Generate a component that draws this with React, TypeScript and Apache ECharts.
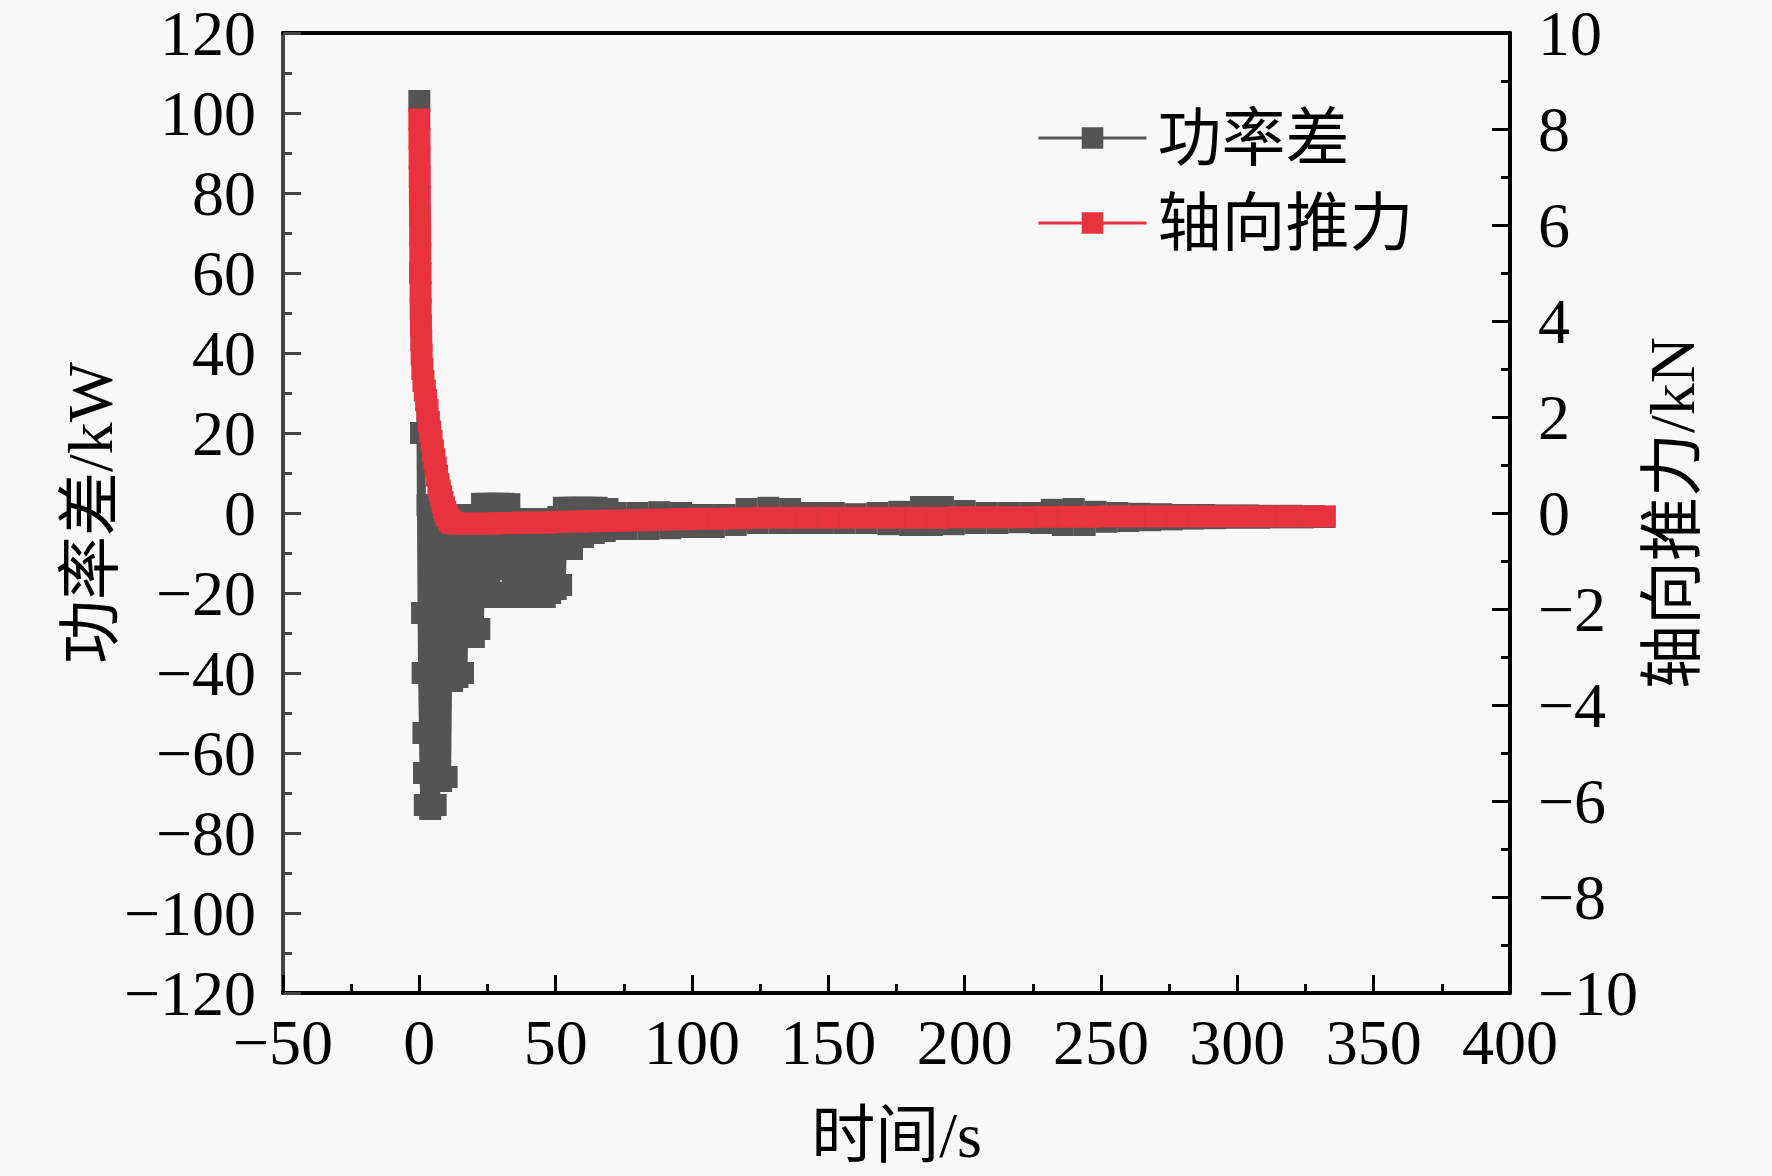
import React, { useEffect, useRef } from "react";
import * as echarts from "echarts";

// 功率差 (kW) – time (s) and values
const powerTime = [
  0, 0.3, 0.6, 1, 1.2, 1.5, 1.7, 2, 3, 4, 5, 6, 7, 8, 9, 10, 11, 12, 13, 14, 15, 16, 17, 18, 19, 20,
  21, 22, 23, 24, 25, 26, 27, 28, 29, 30, 31, 32, 33, 34, 35, 36, 37, 38, 39, 40,
  41, 42, 43, 44, 45, 46, 47, 48, 49, 50, 51, 52, 53, 54, 55, 56, 57, 58, 59, 60,
  61, 62, 63, 64, 65, 66, 67, 68, 69, 70,
  72, 76, 80, 84, 88, 92, 96, 100, 104, 108, 112, 116, 120, 124, 128, 132, 136, 140,
  144, 148, 152, 156, 160, 164, 168, 172, 176, 180, 184, 188, 192, 196, 200, 204,
  208, 212, 216, 220, 224, 228, 232, 236, 240, 244, 248, 252, 256, 260, 264, 268,
  272, 276, 280, 284, 288, 292, 296, 300, 304, 308, 312, 316, 320, 324, 328, 332,
];
const powerDiff = [
  103, 60, 20, -25, -40, -55, -65, -73, 2, -74, 1, -73, 0, -67, 1, -66, -0.5, -42, -0.5, -41, -0.5, -40, -0.5, -30, -0.5, -31,
  -0.5, -29, 2.3, -20, 2.3, -21, 2.3, -20, 2.3, -14, 2.3, -21, 2.2, -21, -1.5, -20, -1.5, -21, -1.5, -17,
  -1.5, -20, -1.5, -20, -1.5, -21, -1.5, -20, -1.5, -19, -1, -18, 1.3, -9, 1.3, -9, 1.3, -6, 1.3, -6,
  1.3, -5, 1.3, -5, 1.3, -4.5, 1, -4.5, 1, -4,
  0, -4, 0, -4, 0.2, -3.8, 0, -3.5, -0.5, -3.5, -0.5, -3, 1, -2.5, 1.3, -2.5, 1, -2.5,
  0, -2.5, 0, -2.5, -0.3, -2.5, 0, -2.8, 0.3, -3, 1.5, -3, 1.5, -2.8, 0.5, -2.5,
  0, -2.5, 0, -2.3, 0, -2.5, 0.8, -3, 1, -3, 0.3, -2.2, 0, -2, -0.2, -1.8,
  -0.3, -1.6, -0.5, -1.4, -0.5, -1.3, -0.6, -1.2, -0.6, -1.2, -0.7, -1.1, -0.7, -1.1, -0.8, -1,
];

// 轴向推力 (kN) – time (s) and values
const thrustTime = [
  0, 0.05, 0.1, 0.15, 0.2, 0.25, 0.3, 0.35, 0.4, 0.45, 0.5, 0.6, 0.7, 0.85, 1.1, 1.5,
  2, 2.5, 3, 3.5, 4, 4.5, 5, 5.5, 6, 6.5, 7, 7.5, 8, 8.5, 9, 9.5, 10, 11, 12, 14, 18,
  22, 26, 30, 34, 38, 42, 46, 50, 54, 58, 62, 66, 70, 74, 78, 82, 86, 90, 94, 98,
  102, 110, 118, 126, 134, 142, 150, 158, 166, 174, 182, 190, 198, 206, 214, 222,
  230, 238, 246, 254, 262, 270, 278, 286, 294, 302, 310, 318, 326, 332,
];
const axialThrust = [
  8.2, 7.8, 7.4, 7.0, 6.6, 6.2, 5.8, 5.4, 5.0, 4.6, 4.25, 3.9, 3.6, 3.3, 3.0, 2.75,
  2.55, 2.35, 2.15, 1.9, 1.7, 1.5, 1.3, 1.12, 0.95, 0.78, 0.6, 0.47, 0.35, 0.23, 0.12, 0.03, -0.05, -0.15, -0.2, -0.22, -0.22,
  -0.22, -0.22, -0.21, -0.21, -0.2, -0.2, -0.2, -0.19, -0.18, -0.18, -0.17, -0.17, -0.16, -0.16, -0.15, -0.15, -0.14, -0.14, -0.13, -0.13,
  -0.12, -0.12, -0.11, -0.1, -0.1, -0.1, -0.1, -0.1, -0.1, -0.1, -0.1, -0.1, -0.09, -0.09, -0.09, -0.09,
  -0.08, -0.08, -0.08, -0.07, -0.07, -0.07, -0.07, -0.07, -0.07, -0.07, -0.07, -0.07, -0.07, -0.07,
];

const seriesNames = ["功率差", "轴向推力"];
const axisNames = { x: "时间/s", yLeft: "功率差/kW", yRight: "轴向推力/kN" };

const FONT = "'Liberation Serif', 'Times New Roman', 'Noto Sans CJK SC', serif";
const GRAY = "#545454";
const RED = "#e8333f";

const fmt = (v: number) => (v < 0 ? "\u2212" + Math.abs(v) : String(v));

export default function App() {
  const ref = useRef<HTMLDivElement>(null);
  useEffect(() => {
    document.body.style.margin = "0";
    document.body.style.background = "#f8f8f8";
    const chart = echarts.init(ref.current!, null, { renderer: "svg" });
    const axisText = { fontFamily: FONT, fontSize: 64, color: "#000" };
    const tickText = { ...axisText, lineHeight: 54 };
    chart.setOption({
      animation: false,
      backgroundColor: "#f8f8f8",
      grid: { left: 283, right: 262, top: 33, bottom: 183 },
      legend: {
        orient: "vertical",
        left: 1032,
        top: 101,
        itemWidth: 108,
        itemHeight: 27,
        itemGap: 21,
        lineStyle: { width: 3 },
        textStyle: { fontFamily: FONT, fontSize: 64, color: "#000", lineHeight: 64, padding: [0, 0, 0, 6] },
        data: seriesNames,
      },
      xAxis: [
        {
          type: "value",
          min: -50,
          max: 400,
          interval: 50,
          position: "bottom",
          name: axisNames.x,
          nameLocation: "middle",
          nameGap: 110,
          nameMoveOverlap: false,
          nameTextStyle: { ...axisText },
          axisLine: { show: true, onZero: false, lineStyle: { color: "#000", width: 4 } },
          axisTick: { show: true, inside: true, length: 18, lineStyle: { color: "#000", width: 3 } },
          minorTick: { show: true, splitNumber: 2, length: 9, lineStyle: { color: "#000", width: 3 } },
          axisLabel: { ...tickText, margin: 22, formatter: fmt },
          splitLine: { show: false },
        },
        {
          type: "value",
          min: -50,
          max: 400,
          position: "top",
          axisLine: { show: true, onZero: false, lineStyle: { color: "#000", width: 4 } },
          axisTick: { show: false },
          axisLabel: { show: false },
          splitLine: { show: false },
        },
      ],
      yAxis: [
        {
          type: "value",
          min: -120,
          max: 120,
          interval: 20,
          position: "left",
          name: axisNames.yLeft,
          nameLocation: "middle",
          nameRotate: 90,
          nameGap: 161,
          nameMoveOverlap: false,
          nameTextStyle: { ...axisText },
          axisLine: { show: true, onZero: false, lineStyle: { color: "#444", width: 4 } },
          axisTick: { show: true, inside: true, length: 18, lineStyle: { color: "#444", width: 3 } },
          minorTick: { show: true, splitNumber: 2, length: 9, lineStyle: { color: "#444", width: 3 } },
          axisLabel: { ...tickText, margin: 27, formatter: fmt },
          splitLine: { show: false },
        },
        {
          type: "value",
          min: -10,
          max: 10,
          interval: 2,
          position: "right",
          name: axisNames.yRight,
          nameLocation: "middle",
          nameRotate: 90,
          nameGap: 130,
          nameMoveOverlap: false,
          nameTextStyle: { ...axisText },
          axisLine: { show: true, onZero: false, lineStyle: { color: "#000", width: 4 } },
          axisTick: { show: true, inside: true, length: 18, lineStyle: { color: "#000", width: 3 } },
          minorTick: { show: true, splitNumber: 2, length: 9, lineStyle: { color: "#000", width: 3 } },
          axisLabel: { ...tickText, margin: 28, formatter: fmt },
          splitLine: { show: false },
        },
      ],
      series: [
        {
          name: seriesNames[0],
          type: "line",
          xAxisIndex: 0,
          yAxisIndex: 0,
          data: powerTime.map((t, i) => [t, powerDiff[i]]),
          symbol: "rect",
          symbolSize: 22,
          showAllSymbol: true,
          lineStyle: { color: GRAY, width: 9 },
          itemStyle: { color: GRAY },
        },
        {
          name: seriesNames[1],
          type: "line",
          xAxisIndex: 0,
          yAxisIndex: 1,
          data: thrustTime.map((t, i) => [t, axialThrust[i]]),
          symbol: "rect",
          symbolSize: 22,
          showAllSymbol: true,
          lineStyle: { color: RED, width: 6 },
          itemStyle: { color: RED },
        },
      ],
    });
    return () => chart.dispose();
  }, []);
  return (
    <div
      ref={ref}
      style={{ position: "fixed", left: 0, top: 0, width: 1772, height: 1176 }}
    />
  );
}
